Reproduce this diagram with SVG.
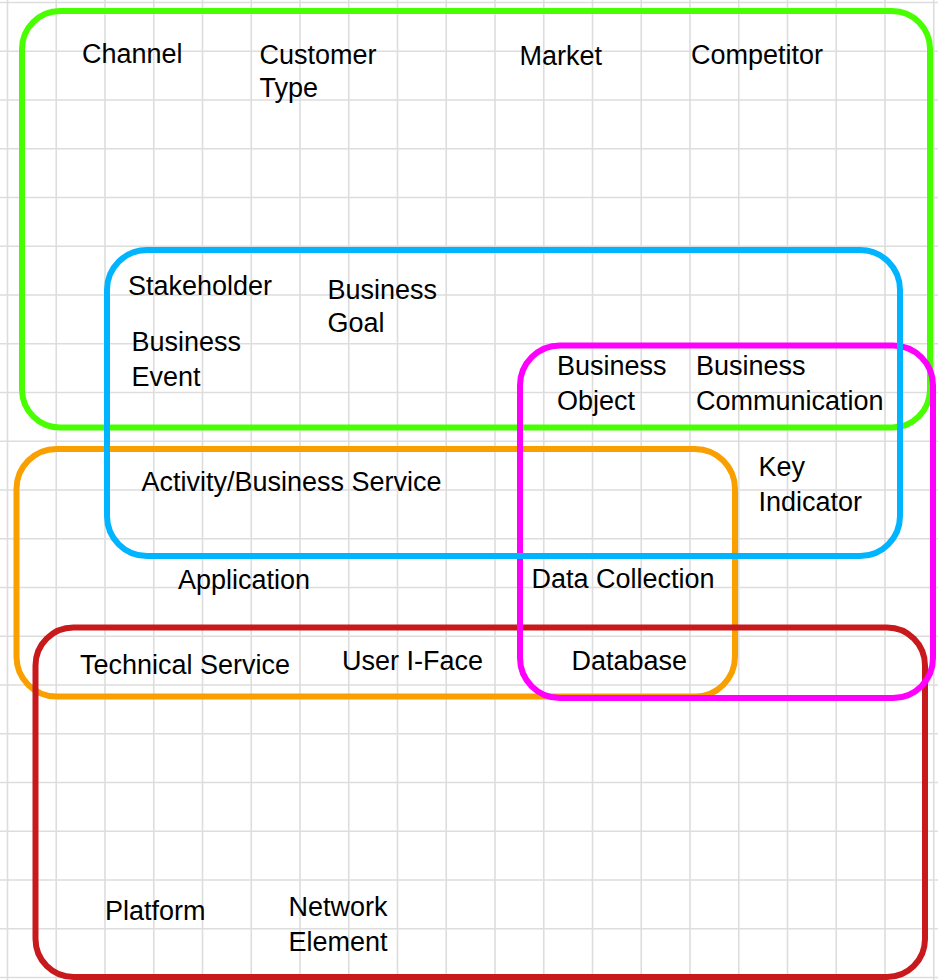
<svg xmlns="http://www.w3.org/2000/svg" width="938" height="980" viewBox="0 0 938 980">
<style>
.grid line{stroke:#dddddd;stroke-width:1.6}
.box{fill:none;stroke-width:6}
.lbl{font-family:"Liberation Sans",Arial,sans-serif;font-size:27px;fill:#000}
</style>
<rect x="0" y="0" width="938" height="980" fill="#ffffff"/>
<g id="grid" class="grid">
<line x1="7.5" y1="0" x2="7.5" y2="980"/>
<line x1="56.25" y1="0" x2="56.25" y2="980"/>
<line x1="105" y1="0" x2="105" y2="980"/>
<line x1="153.75" y1="0" x2="153.75" y2="980"/>
<line x1="202.5" y1="0" x2="202.5" y2="980"/>
<line x1="251.25" y1="0" x2="251.25" y2="980"/>
<line x1="300" y1="0" x2="300" y2="980"/>
<line x1="348.75" y1="0" x2="348.75" y2="980"/>
<line x1="397.5" y1="0" x2="397.5" y2="980"/>
<line x1="446.25" y1="0" x2="446.25" y2="980"/>
<line x1="495" y1="0" x2="495" y2="980"/>
<line x1="543.75" y1="0" x2="543.75" y2="980"/>
<line x1="592.5" y1="0" x2="592.5" y2="980"/>
<line x1="641.25" y1="0" x2="641.25" y2="980"/>
<line x1="690" y1="0" x2="690" y2="980"/>
<line x1="738.75" y1="0" x2="738.75" y2="980"/>
<line x1="787.5" y1="0" x2="787.5" y2="980"/>
<line x1="836.25" y1="0" x2="836.25" y2="980"/>
<line x1="885" y1="0" x2="885" y2="980"/>
<line x1="933.75" y1="0" x2="933.75" y2="980"/>
<line x1="0" y1="2.5" x2="938" y2="2.5"/>
<line x1="0" y1="51.25" x2="938" y2="51.25"/>
<line x1="0" y1="100" x2="938" y2="100"/>
<line x1="0" y1="148.75" x2="938" y2="148.75"/>
<line x1="0" y1="197.5" x2="938" y2="197.5"/>
<line x1="0" y1="246.25" x2="938" y2="246.25"/>
<line x1="0" y1="295" x2="938" y2="295"/>
<line x1="0" y1="343.75" x2="938" y2="343.75"/>
<line x1="0" y1="392.5" x2="938" y2="392.5"/>
<line x1="0" y1="441.25" x2="938" y2="441.25"/>
<line x1="0" y1="490" x2="938" y2="490"/>
<line x1="0" y1="538.75" x2="938" y2="538.75"/>
<line x1="0" y1="587.5" x2="938" y2="587.5"/>
<line x1="0" y1="636.25" x2="938" y2="636.25"/>
<line x1="0" y1="685" x2="938" y2="685"/>
<line x1="0" y1="733.75" x2="938" y2="733.75"/>
<line x1="0" y1="782.5" x2="938" y2="782.5"/>
<line x1="0" y1="831.25" x2="938" y2="831.25"/>
<line x1="0" y1="880" x2="938" y2="880"/>
<line x1="0" y1="928.75" x2="938" y2="928.75"/>
<line x1="0" y1="977.5" x2="938" y2="977.5"/>
</g>
<g id="regions">
<g id="region-green"><rect class="box" x="22" y="11" width="908" height="416.5" rx="38" ry="38" stroke="#48ff00"/></g>
<g id="region-orange"><rect class="box" x="16.5" y="449" width="718.5" height="247.5" rx="40" ry="40" stroke="#f9a000"/></g>
<g id="region-red"><rect class="box" x="35.5" y="627.5" width="889.5" height="349.5" rx="38" ry="38" stroke="#c8191c"/></g>
<g id="region-magenta"><rect class="box" x="520" y="345.5" width="413" height="352.5" rx="40" ry="40" stroke="#ff00ff"/></g>
<g id="region-blue"><rect class="box" x="107" y="250" width="793" height="306" rx="40" ry="40" stroke="#00b4ff"/></g>
</g>
<g id="connectors"></g>
<g id="labels" class="lbl">
<g id="n-channel"><text x="82" y="62.5">Channel</text></g>
<g id="n-customer-type"><text x="259.5" y="64">Customer</text><text x="259.5" y="97">Type</text></g>
<g id="n-market"><text x="519.5" y="64.5">Market</text></g>
<g id="n-competitor"><text x="691" y="63.5">Competitor</text></g>
<g id="n-stakeholder"><text x="128" y="295">Stakeholder</text></g>
<g id="n-business-goal"><text x="327.5" y="298.5">Business</text><text x="327.5" y="332">Goal</text></g>
<g id="n-business-event"><text x="131.5" y="351">Business</text><text x="131.5" y="386">Event</text></g>
<g id="n-business-object"><text x="557" y="374.5">Business</text><text x="557" y="409.5">Object</text></g>
<g id="n-business-communication"><text x="696" y="374.5">Business</text><text x="696" y="409.5">Communication</text></g>
<g id="n-key-indicator"><text x="758.5" y="476">Key</text><text x="758.5" y="510.5">Indicator</text></g>
<g id="n-activity"><text x="141.5" y="490.5">Activity/Business Service</text></g>
<g id="n-application"><text x="178" y="588.5">Application</text></g>
<g id="n-data-collection"><text x="531.5" y="588">Data Collection</text></g>
<g id="n-technical-service"><text x="80" y="673.5">Technical Service</text></g>
<g id="n-user-iface"><text x="342" y="670">User I-Face</text></g>
<g id="n-database"><text x="571.5" y="670">Database</text></g>
<g id="n-platform"><text x="105" y="919.5">Platform</text></g>
<g id="n-network-element"><text x="288.5" y="916">Network</text><text x="288.5" y="951">Element</text></g>
</g>
</svg>
